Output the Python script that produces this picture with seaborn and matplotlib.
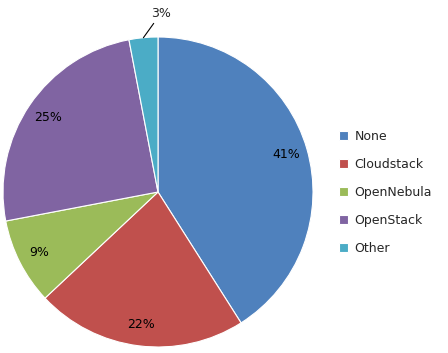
import numpy as np
import matplotlib
matplotlib.use("Agg")
import matplotlib.pyplot as plt
import seaborn as sns

categories = ["None", "Cloudstack", "OpenNebula", "OpenStack", "Other"]
values = [41, 22, 9, 25, 3]
colors = ["#4F81BD", "#C0504D", "#9BBB59", "#8064A2", "#4BACC6"]

sns.set_style("white")
plt.rcParams["font.family"] = ["DejaVu Sans"]

W, H = 448, 353
fig = plt.figure(figsize=(W / 100, H / 100), dpi=100)
R = 155
cx, cy = 158, 192
ax = fig.add_axes([(cx - R) / W, 1 - (cy + R) / H, 2 * R / W, 2 * R / H])

def fmt(p):
    return "" if p < 5 else f"{p:.0f}%"

wedges, texts, autotexts = ax.pie(
    values, colors=colors, startangle=90, counterclock=False,
    autopct=fmt, pctdistance=0.86,
    wedgeprops=dict(edgecolor="white", linewidth=0.8),
    textprops=dict(fontsize=9, color="black"))
ax.set_xlim(-1, 1)
ax.set_ylim(-1, 1)
ax.set_aspect("equal")

# outside label for small slice
w = wedges[-1]
mid = np.deg2rad((w.theta1 + w.theta2) / 2)
tang = mid - np.deg2rad(3.0)
ax.annotate(f"{values[-1]}%", xy=(np.cos(mid), np.sin(mid)),
            xytext=(1.11 * np.cos(tang), 1.11 * np.sin(tang)),
            fontsize=9, ha="left", va="bottom",
            arrowprops=dict(arrowstyle="-", color="black", lw=0.8,
                            shrinkA=0, shrinkB=0),
            annotation_clip=False)

fig.legend(wedges, categories, loc="center left",
           bbox_to_anchor=(333 / W, 1 - 192 / H), frameon=False,
           fontsize=9, handlelength=0.7, handleheight=0.7,
           handletextpad=0.5, labelspacing=1.2, borderpad=0)

fig.savefig("out.png", dpi=100)
